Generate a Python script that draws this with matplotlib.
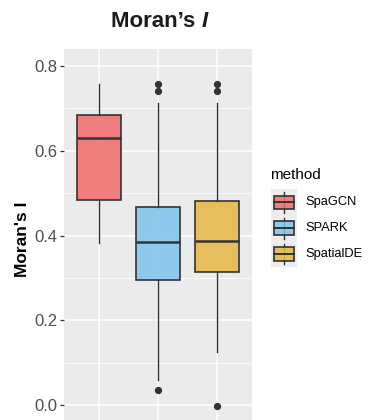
import matplotlib
matplotlib.use("Agg")
import matplotlib.pyplot as plt
from matplotlib.patches import Rectangle

# ---- data ----
methods = ["SpaGCN", "SPARK", "SpatialDE"]
whislo = [0.382, 0.059, 0.126]
q1 = [0.484, 0.295, 0.313]
med = [0.629, 0.384, 0.387]
q3 = [0.685, 0.467, 0.482]
whishi = [0.757, 0.713, 0.713]
outliers = [[], [0.757, 0.740, 0.035], [0.757, 0.740, -0.002]]
colors = ["#F06A6A", "#7EC2EA", "#E7B644"]
yticks = [0.0, 0.2, 0.4, 0.6, 0.8]
ytick_labels = ["0.0", "0.2", "0.4", "0.6", "0.8"]

W, H = 372, 420
plt.rcParams['font.family'] = ['Liberation Sans', 'DejaVu Sans']
fig = plt.figure(figsize=(W / 100, H / 100), dpi=100)

def fx(px):
    return px / W

def fy(py):
    return 1 - py / H

ax = fig.add_axes([fx(64), fy(420), fx(252) - fx(64), fy(49) - fy(420)])
ax.set_facecolor("#EBEBEB")
for s in ax.spines.values():
    s.set_visible(False)

stats = []
for i, m in enumerate(methods):
    stats.append(dict(label=m, whislo=whislo[i], q1=q1[i], med=med[i],
                      q3=q3[i], whishi=whishi[i], fliers=outliers[i]))

positions = list(range(1, len(methods) + 1))
bp = ax.bxp(stats, positions=positions, widths=0.75, patch_artist=True,
            showcaps=False,
            boxprops=dict(edgecolor="#333333", linewidth=1.2),
            whiskerprops=dict(color="#333333", linewidth=1.0),
            medianprops=dict(color="#333333", linewidth=1.8),
            flierprops=dict(marker="o", markerfacecolor="#333333",
                            markeredgecolor="#333333", markersize=4.2))
for patch, c in zip(bp["boxes"], colors):
    patch.set_facecolor(matplotlib.colors.to_rgba(c, 0.85))
for ln in bp["whiskers"] + bp["medians"] + bp["fliers"]:
    ln.set_zorder(3)

ax.set_xlim(0.4, 3.6)
ax.set_ylim((405 - 420) / 423.75, (405 - 49) / 423.75)
ax.set_yticks(yticks)
ax.set_yticklabels(ytick_labels)
ax.set_yticks([0.1, 0.3, 0.5, 0.7], minor=True)
ax.set_xticks(positions)
ax.set_xticklabels([])
ax.tick_params(axis="x", length=0)
ax.tick_params(axis="y", which="major", length=3.2, width=0.9, color="#333333",
               labelsize=12, labelcolor="#4D4D4D", pad=1.5)
ax.tick_params(axis="y", which="minor", length=0)
ax.grid(True, which="major", color="white", linewidth=1.1)
ax.grid(True, which="minor", axis="y", color="white", linewidth=0.55)
ax.set_axisbelow(True)

# y label
fig.text(fx(22.5), fy(239), "Moran's I", rotation=90, ha="center", va="center",
         fontsize=12.5, fontweight="bold", color="black")

# title: bold "Moran’s " + bold-italic "I"
fig.canvas.draw()
r = fig.canvas.get_renderer()
t1 = fig.text(0, fy(26.7), "Moran\u2019s ", fontsize=16, fontweight="bold",
              va="baseline", ha="left", color="#1A1A1A")
t2 = fig.text(0, fy(26.7), "I", fontsize=16, fontweight="bold", style="italic",
              va="baseline", ha="left", color="#1A1A1A")
w1 = t1.get_window_extent(r).width
w2 = t2.get_window_extent(r).width
x0 = 159 - (w1 + w2) / 2
t1.set_x(fx(x0))
t2.set_x(fx(x0 + w1))

# legend
fig.text(fx(270), fy(179), "method", fontsize=11, va="baseline", ha="left",
         color="black")
key_top = 189.5
key_h = 25.8
key_w = 26
lax = fig.add_axes([fx(270.5), fy(key_top + key_h * len(methods)), fx(key_w),
                    fy(key_top) - fy(key_top + key_h * len(methods))])
lax.set_xlim(0, 1)
lax.set_ylim(len(methods), 0)
lax.axis("off")
for i, (m, c) in enumerate(zip(methods, colors)):
    lax.add_patch(Rectangle((0, i), 1, 1, facecolor="#EDEDED", edgecolor="none"))
    lax.plot([0.5, 0.5], [i + 0.1, i + 0.9], color="#333333", lw=1.0)
    bh = 13.5 / key_h
    bx0, bx1 = 3 / key_w, 23.5 / key_w
    lax.add_patch(Rectangle((bx0, i + 0.5 - bh / 2), bx1 - bx0, bh,
                            facecolor=matplotlib.colors.to_rgba(c, 0.85),
                            edgecolor="#333333", lw=1.2, zorder=3))
    lax.plot([bx0, bx1], [i + 0.5, i + 0.5], color="#333333", lw=1.4,
             zorder=4)
    fig.text(fx(305), fy(key_top + key_h * (i + 0.5)), m, fontsize=9.3,
             va="center", ha="left", color="black")

fig.savefig("out.png", dpi=100)
